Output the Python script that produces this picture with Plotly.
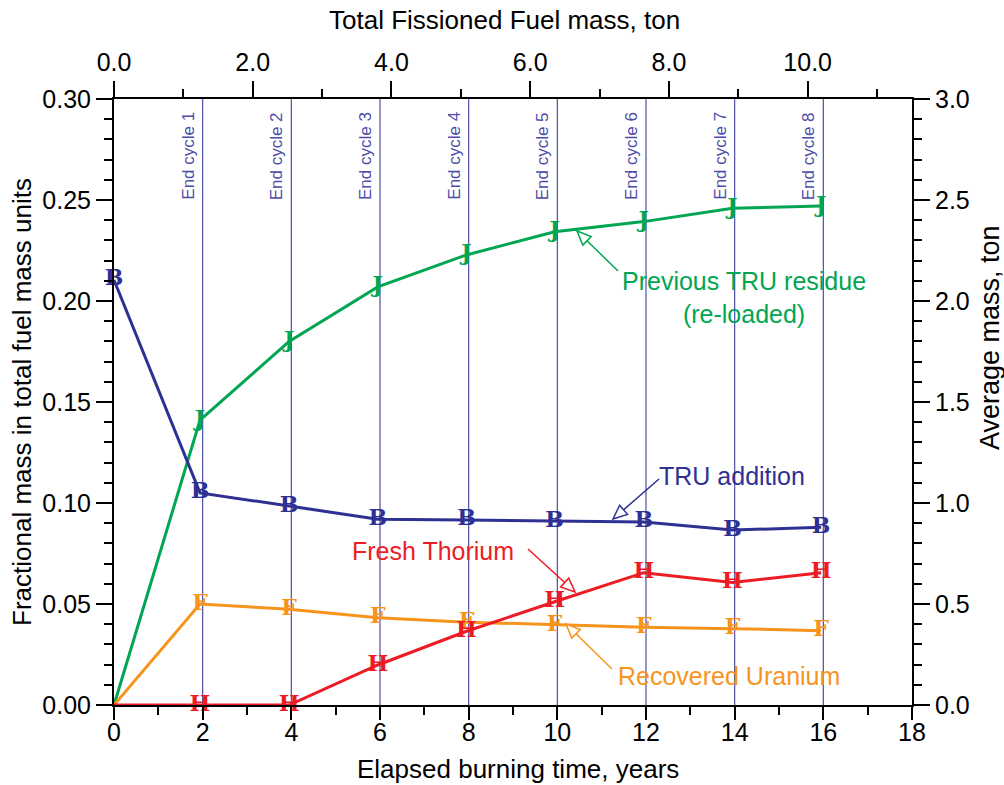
import math
import plotly.graph_objects as go

# ---------------- data ----------------
years = [0, 1.94, 3.95, 5.95, 7.95, 9.94, 11.95, 13.95, 15.95]
tru_addition = [0.2104, 0.105, 0.0985, 0.092, 0.0916, 0.0910, 0.0906, 0.0866, 0.0880]
prev_tru_residue = [0.0, 0.141, 0.180, 0.207, 0.2228, 0.2343, 0.2393, 0.2459, 0.2470]
fresh_thorium = [0.0, 0.0, 0.0, 0.0198, 0.0365, 0.0511, 0.0655, 0.0606, 0.0655]
recovered_uranium = [0.0, 0.0500, 0.0474, 0.0432, 0.0410, 0.0396, 0.0385, 0.0378, 0.0368]

cycle_end_years = [2, 4, 6, 8, 10, 12, 14, 16]
cycle_labels = ["End cycle %d" % i for i in range(1, 9)]

BLUE = "#2e3192"
GREEN = "#00a651"
RED = "#ed1c24"
ORANGE = "#f7941d"
CYCLE = "#4d4da8"
FONT = "Liberation Sans"
MFONT = "DejaVu Serif"

# ------------- geometry --------------
W, H = 1004, 785
ML, MR, MT, MB = 114, 92, 99, 80
PW, PH = W - ML - MR, H - MT - MB


def px(x, y):
    return (x - ML) / PW, (H - MB - y) / PH


fig = go.Figure()

series = [
    (years[1:], prev_tru_residue[1:], prev_tru_residue, GREEN, "J"),
    (years[1:], recovered_uranium[1:], recovered_uranium, ORANGE, "F"),
    (years[1:], fresh_thorium[1:], fresh_thorium, RED, "H"),
    (years, tru_addition, tru_addition, BLUE, "B"),
]
for xs_m, ys_m, ys_l, col, letter in series:
    fig.add_trace(go.Scatter(x=years, y=ys_l, mode="lines",
                             line=dict(color=col, width=3),
                             showlegend=False, hoverinfo="skip"))
for xs_m, ys_m, ys_l, col, letter in series:
    fig.add_trace(go.Scatter(x=xs_m, y=ys_m, mode="text",
                             text=[letter] * len(xs_m),
                             textposition="middle center", cliponaxis=False,
                             textfont=dict(family=MFONT, size=22, color=col, weight="bold"),
                             showlegend=False, hoverinfo="skip"))

# invisible trace to activate secondary axes
fig.add_trace(go.Scatter(x=[0], y=[0], xaxis="x2", yaxis="y2", mode="markers",
                         marker=dict(opacity=0), showlegend=False, hoverinfo="skip"))

shapes = []
annotations = []

for cx, lab in zip(cycle_end_years, cycle_labels):
    shapes.append(dict(type="line", xref="x", yref="y", x0=cx, x1=cx, y0=0, y1=0.30,
                       line=dict(color=CYCLE, width=1.2), layer="below"))
    annotations.append(dict(x=cx, y=px(0, 110)[1], xref="x", yref="paper",
                            text=lab, textangle=-90, showarrow=False,
                            xanchor="center", yanchor="top", xshift=-15,
                            font=dict(family=FONT, size=17, color=CYCLE)))


def add_arrow(x0, y0, x1, y1, col):
    dx, dy = x1 - x0, y1 - y0
    L = math.hypot(dx, dy)
    ux, uy = dx / L, dy / L
    hl, hw = 14, 6
    bx, by = x1 - ux * hl, y1 - uy * hl
    nx, ny = -uy, ux
    a = px(x0, y0)
    b = px(bx, by)
    shapes.append(dict(type="line", xref="paper", yref="paper",
                       x0=a[0], y0=a[1], x1=b[0], y1=b[1],
                       line=dict(color=col, width=1.5)))
    p1 = px(x1, y1)
    p2 = px(bx + nx * hw, by + ny * hw)
    p3 = px(bx - nx * hw, by - ny * hw)
    path = "M %f %f L %f %f L %f %f Z" % (p1[0], p1[1], p2[0], p2[1], p3[0], p3[1])
    shapes.append(dict(type="path", xref="paper", yref="paper", path=path,
                       fillcolor="white", line=dict(color=col, width=1.5)))


add_arrow(618, 271, 577, 231, GREEN)
add_arrow(659, 479, 613, 519, BLUE)
add_arrow(528, 549, 575, 592, RED)
add_arrow(612, 669, 566, 624, ORANGE)


def label(x, y, text, col, size=25, angle=0):
    p = px(x, y)
    annotations.append(dict(x=p[0], y=p[1], xref="paper", yref="paper", text=text,
                            showarrow=False, xanchor="center", yanchor="middle",
                            textangle=angle, align="center",
                            font=dict(family=FONT, size=size, color=col)))


label(744, 297, "Previous TRU residue<br>(re-loaded)", GREEN)
label(732, 476, "TRU addition", BLUE)
label(433, 551, "Fresh Thorium", RED)
label(729, 676, "Recovered Uranium", ORANGE)

# axis titles
label(518, 769, "Elapsed burning time, years", "black", size=26)
label(504, 20, "Total Fissioned Fuel mass, ton", "black", size=26)
label(22, 402, "Fractional mass in total fuel mass units", "black", size=26, angle=-90)
label(990, 338, "Average mass, ton", "black", size=27, angle=-90)

tickfont = dict(family=FONT, size=25, color="black")
common = dict(showgrid=False, zeroline=False, showline=True, linecolor="black",
              linewidth=2, ticks="outside", tickcolor="black", tickwidth=1.5,
              ticklen=16, tickfont=tickfont)

fig.update_layout(
    width=W, height=H,
    margin=dict(l=ML, r=MR, t=MT, b=MB, pad=0),
    paper_bgcolor="white", plot_bgcolor="white",
    xaxis=dict(range=[0, 18], tick0=0, dtick=2, ticklabelstandoff=-9,
               minor=dict(dtick=1, ticklen=8, tickcolor="black", tickwidth=1.5, ticks="outside"),
               **{k: v for k, v in common.items() if k != "ticklen"}, ticklen=13),
    xaxis2=dict(range=[0, 11.504], overlaying="x", side="top", tick0=0, dtick=2,
                tickformat=".1f",
                minor=dict(dtick=1, ticklen=8, tickcolor="black", tickwidth=1.5, ticks="outside"),
                **common),
    yaxis=dict(range=[0, 0.30], tick0=0, dtick=0.05, tickformat=".2f",
               minor=dict(dtick=0.01, ticklen=8, tickcolor="black", tickwidth=1.5, ticks="outside"),
               **common),
    yaxis2=dict(range=[0, 3.0], overlaying="y", side="right", tick0=0, dtick=0.5,
                tickformat=".1f",
                minor=dict(dtick=0.1, ticklen=8, tickcolor="black", tickwidth=1.5, ticks="outside"),
                **common),
    shapes=shapes,
    annotations=annotations,
)

fig.write_html("out.html")
